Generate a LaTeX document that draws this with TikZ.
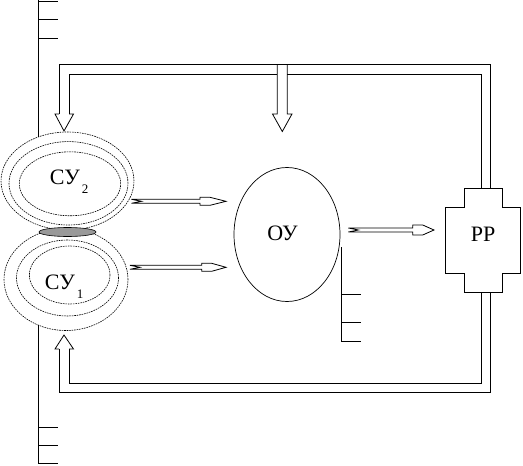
\documentclass[tikz,border=0pt]{standalone}
\usepackage{fontspec}
\setmainfont{Liberation Serif}
\newcommand\subx[1]{\raisebox{-9pt}{\fontsize{13}{13}\selectfont #1}}
\newcommand\thinarr[6]{% #1 x0, #2 head start, #3 tip, #4 y, #5 head half width, #6 name
  \draw[thinline] (#1,{#4-2}) -- (#2,{#4-2}) -- (#2,{#4-#5}) -- ({#2+10},{#4-#5}) -- (#3,#4)
    -- ({#2+10},{#4+#5}) -- (#2,{#4+#5}) -- (#2,{#4+2}) -- (#1,{#4+2}) -- ({#1+10},#4) -- cycle;
  \coordinate (#6) at (#3,#4);}
\begin{document}
\begin{tikzpicture}[x=1pt,y=-1pt, line width=0.8pt,
  lbl/.style={font=\fontsize{22}{22}\selectfont, inner sep=0pt, anchor=base west},
  ring/.style={line width=0.6pt, dash pattern=on 1.6pt off 0.9pt},
  thinline/.style={line width=0.8pt},
  tickline/.style={line width=0.8pt}]
\useasboundingbox (0,0) rectangle (523,466);

% left long line with ticks
\draw[tickline] (38.5,0) -- (38.5,137);
\foreach \yy in {1.7,19.3,38.3} \draw[tickline] (38.5,\yy) -- (58,\yy);
\draw[tickline] (38.5,325) -- (38.5,464);
\foreach \yy in {427.3,445.3,463.8} \draw[tickline] (38.5,\yy) -- (58,\yy);

% top frame
\draw (59,114) -- (59,64) -- (490.7,64) -- (490.7,188.3);
\draw (69,114) -- (69,74) -- (277.3,74);
\draw (287.3,74) -- (481.3,74) -- (481.3,188.3);
\draw (59,114) -- (55,114) -- (64,131) -- (73.5,114) -- (69,114);
\draw (277.3,64) -- (277.3,114) -- (272.5,114) -- (282.3,131.5) -- (292,114) -- (287.3,114) -- (287.3,64);

% bottom frame
\draw (59,349) -- (59,392.5) -- (490.7,392.5) -- (490.7,292.3);
\draw (69,349) -- (69,383) -- (481.3,383) -- (481.3,292.3);
\draw (59,349) -- (55,349) -- (64,335) -- (73.5,349) -- (69,349);

% PP block
\draw (464.3,188.3) -- (502.3,188.3) -- (502.3,207.3) -- (520,207.3) -- (520,273.3)
  -- (502.3,273.3) -- (502.3,292.3) -- (464.3,292.3) -- (464.3,273.3) -- (445.3,273.3)
  -- (445.3,207.3) -- (464.3,207.3) -- cycle;
\node[lbl] (pp) at (470.5,241) {РР};

% OU
\draw[line width=0.7pt] (287,234.5) ellipse [x radius=53pt, y radius=67pt];
\node[lbl] (ou) at (267,240) {ОУ};
\draw[tickline] (341.3,247) -- (341.3,341.7);
\foreach \yy in {294.3,322.3,341.5} \draw[tickline] (341.3,\yy) -- (360.7,\yy);

% SU2 rings
\draw[ring] (67.5,181) ellipse [x radius=66.5pt, y radius=49pt];
\draw[ring] (68.5,183.3) ellipse [x radius=59.5pt, y radius=41.7pt];
\draw[ring] (70,183.8) ellipse [x radius=50.7pt, y radius=32pt];
\node[lbl] (su2) at (49.5,184.3) {СУ\kern2pt\subx{2}};

% SU1 rings
\draw[ring] (66,279.5) ellipse [x radius=62pt, y radius=51pt];
\draw[ring] (67.5,278) ellipse [x radius=51pt, y radius=38pt];
\draw[ring] (69.7,275) ellipse [x radius=40.3pt, y radius=29pt];
\node[lbl] (su1) at (44.5,289) {СУ\kern2pt\subx{1}};

% grey lens
\filldraw[fill=black!40, line width=0.6pt] (67.5,232) ellipse [x radius=28.5pt, y radius=4.5pt];

% thin arrows
\thinarr{131.5}{200}{226}{201.3}{4}{a1}
\thinarr{130}{201.7}{226}{267.3}{4}{a2}
\thinarr{348.3}{412.7}{434}{230}{5}{a3}
\end{tikzpicture}
\end{document}
